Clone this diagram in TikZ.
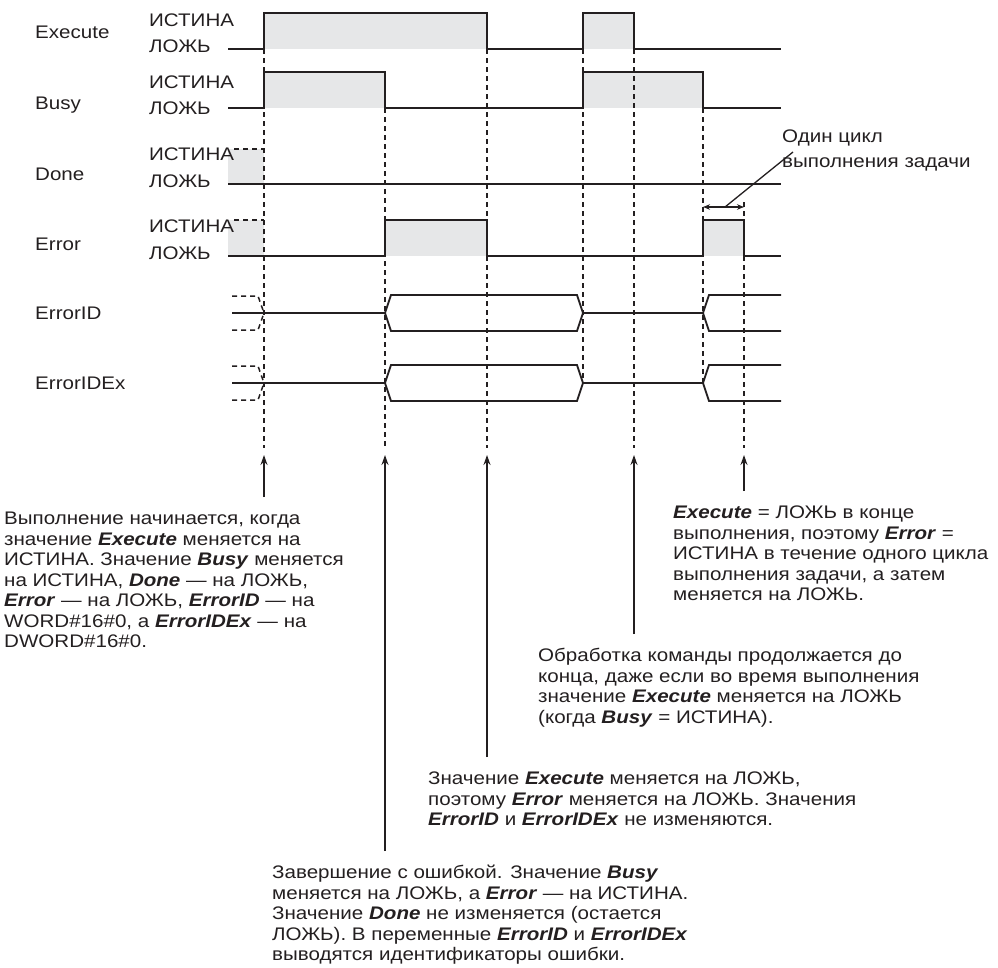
\documentclass[tikz,border=0pt]{standalone}
\usepackage{fontspec}
\setmainfont{Liberation Sans}[FakeStretch=1.13]
\usetikzlibrary{arrows.meta}
\definecolor{ln}{HTML}{231F20}
\definecolor{gf}{HTML}{E6E7E8}
\newcommand\bi[1]{\textbf{\textit{#1}}}
\newcommand\firstln{\rule{0pt}{14pt}}
\begin{document}
\begin{tikzpicture}[x=1pt,y=-1pt,
  font=\fontsize{18.2}{20.5}\selectfont,
  sig/.style={line width=1.8pt, draw=ln, line join=miter},
  dsh/.style={line width=1.5pt, draw=ln, dash pattern=on 5pt off 4pt},
  gfill/.style={fill=gf},
  lbl/.style={anchor=base west, inner sep=0pt, text=ln},
  blk/.style={anchor=north west, inner sep=0pt, align=left, text=ln},
  arr/.style={line width=1.5pt, draw=ln, -{Stealth[length=10pt,width=7pt]}},
  darr/.style={line width=1.3pt, draw=ln, {Stealth[length=7pt,width=5.5pt]}-{Stealth[length=7pt,width=5.5pt]}}]
\useasboundingbox (0,0) rectangle (998,967);

% ---- gray fills
\fill[gfill] (264,13) rectangle (487,49);
\fill[gfill] (583,13) rectangle (634,49);
\fill[gfill] (264,72) rectangle (385,108);
\fill[gfill] (583,72) rectangle (703,108);
\fill[gfill] (228,149) rectangle (264,184);
\fill[gfill] (228,220) rectangle (264,256);
\fill[gfill] (385,220) rectangle (487,256);
\fill[gfill] (703,220) rectangle (744,256);

% ---- dashed verticals
\draw[dsh] (264,49) -- (264,448);
\draw[dsh] (385,108) -- (385,448);
\draw[dsh] (487,49) -- (487,448);
\draw[dsh] (583,49) -- (583,383);
\draw[dsh] (634,49) -- (634,448);
\draw[dsh] (703,108) -- (703,383);
\draw[dsh] (744,202) -- (744,448);

% ---- signal labels
\node[lbl] (lexe) at (35,38.5) {Execute};
\node[lbl] (lbusy) at (35,109.5) {Busy};
\node[lbl] (ldone) at (35,180.5) {Done};
\node[lbl] (lerr) at (35,250.5) {Error};
\node[lbl] (lid) at (35,319.5) {ErrorID};
\node[lbl] (lidx) at (35,389.5) {ErrorIDEx};

\node[lbl] (t1) at (149,26.5) {ИСТИНА};
\node[lbl] (f1) at (149,52.5) {ЛОЖЬ};
\node[lbl] (t2) at (149,88.5) {ИСТИНА};
\node[lbl] (f2) at (149,114.5) {ЛОЖЬ};
\node[lbl] (t3) at (149,160.5) {ИСТИНА};
\node[lbl] (f3) at (149,187.5) {ЛОЖЬ};
\node[lbl] (t4) at (149,232.5) {ИСТИНА};
\node[lbl] (f4) at (149,259.5) {ЛОЖЬ};

% ---- signals
\draw[sig] (228,49) -- (264,49) -- (264,13) -- (487,13) -- (487,49) -- (583,49) -- (583,13) -- (634,13) -- (634,49) -- (781,49);
\draw[sig] (228,108) -- (264,108) -- (264,72) -- (385,72) -- (385,108) -- (583,108) -- (583,72) -- (703,72) -- (703,108) -- (781,108);
\draw[dsh] (234,149) -- (264,149);
\draw[sig] (228,184) -- (781,184);
\draw[dsh] (234,220) -- (264,220);
\draw[sig] (228,256) -- (385,256) -- (385,220) -- (487,220) -- (487,256) -- (703,256) -- (703,220) -- (744,220) -- (744,256) -- (781,256);

% ---- ErrorID bus
\foreach \c in {313,383}{
  \draw[dsh] (232,\c-17) -- (258,\c-17) -- (264,\c);
  \draw[dsh] (232,\c+17) -- (258,\c+17) -- (264,\c);
  \draw[sig] (232,\c) -- (385,\c);
  \draw[sig] (385,\c) -- (391,\c-18) -- (577,\c-18) -- (583,\c) -- (577,\c+18) -- (391,\c+18) -- cycle;
  \draw[sig] (583,\c) -- (703,\c);
  \draw[sig] (781,\c-18) -- (709,\c-18) -- (703,\c) -- (709,\c+18) -- (781,\c+18);
}

% ---- one cycle annotation
\coordinate (cyl) at (703,207);
\coordinate (cyr) at (744,207);
\draw[darr] (cyl) -- (cyr);
\node[blk, font=\fontsize{18.2}{25}\selectfont] (cyc) at (782,128) {\firstln Один цикл\\выполнения задачи};
\coordinate (cym) at (725,207);
\coordinate (cye) at (793,152);
\draw[line width=1.3pt, draw=ln] (cym) -- (cye);

% ---- text blocks
\node[blk] (b1) at (4,510.5) {\firstln Выполнение начинается, когда\\
значение \bi{Execute} меняется на\\
ИСТИНА. Значение \bi{Busy} меняется\\
на ИСТИНА, \bi{Done} — на ЛОЖЬ,\\
\bi{Error} — на ЛОЖЬ, \bi{ErrorID} — на\\
WORD\#16\#0, а \bi{ErrorIDEx} — на\\
DWORD\#16\#0.};

\node[blk] (b2) at (673,504.5) {\firstln\bi{Execute} = ЛОЖЬ в конце\\
выполнения, поэтому \bi{Error} =\\
ИСТИНА в течение одного цикла\\
выполнения задачи, а затем\\
меняется на ЛОЖЬ.};

\node[blk] (b3) at (538,647.5) {\firstln Обработка команды продолжается до\\
конца, даже если во время выполнения\\
значение \bi{Execute} меняется на ЛОЖЬ\\
(когда \bi{Busy} = ИСТИНА).};

\node[blk] (b4) at (428,770.5) {\firstln Значение \bi{Execute} меняется на ЛОЖЬ,\\
поэтому \bi{Error} меняется на ЛОЖЬ. Значения\\
\bi{ErrorID} и \bi{ErrorIDEx} не изменяются.};

\node[blk] (b5) at (272,864.5) {\firstln Завершение с ошибкой. Значение \bi{Busy}\\
меняется на ЛОЖЬ, а \bi{Error} — на ИСТИНА.\\
Значение \bi{Done} не изменяется (остается\\
ЛОЖЬ). В переменные \bi{ErrorID} и \bi{ErrorIDEx}\\
выводятся идентификаторы ошибки.};

% ---- arrows
\coordinate (p1) at (264,455); \coordinate (s1) at (264,497);
\coordinate (p2) at (385,455); \coordinate (s2) at (385,851);
\coordinate (p3) at (487,455); \coordinate (s3) at (487,757);
\coordinate (p4) at (634,455); \coordinate (s4) at (634,634);
\coordinate (p5) at (744,455); \coordinate (s5) at (744,491);
\foreach \i in {1,...,5}{\draw[arr] (s\i) -- (p\i);}
\end{tikzpicture}
\end{document}
